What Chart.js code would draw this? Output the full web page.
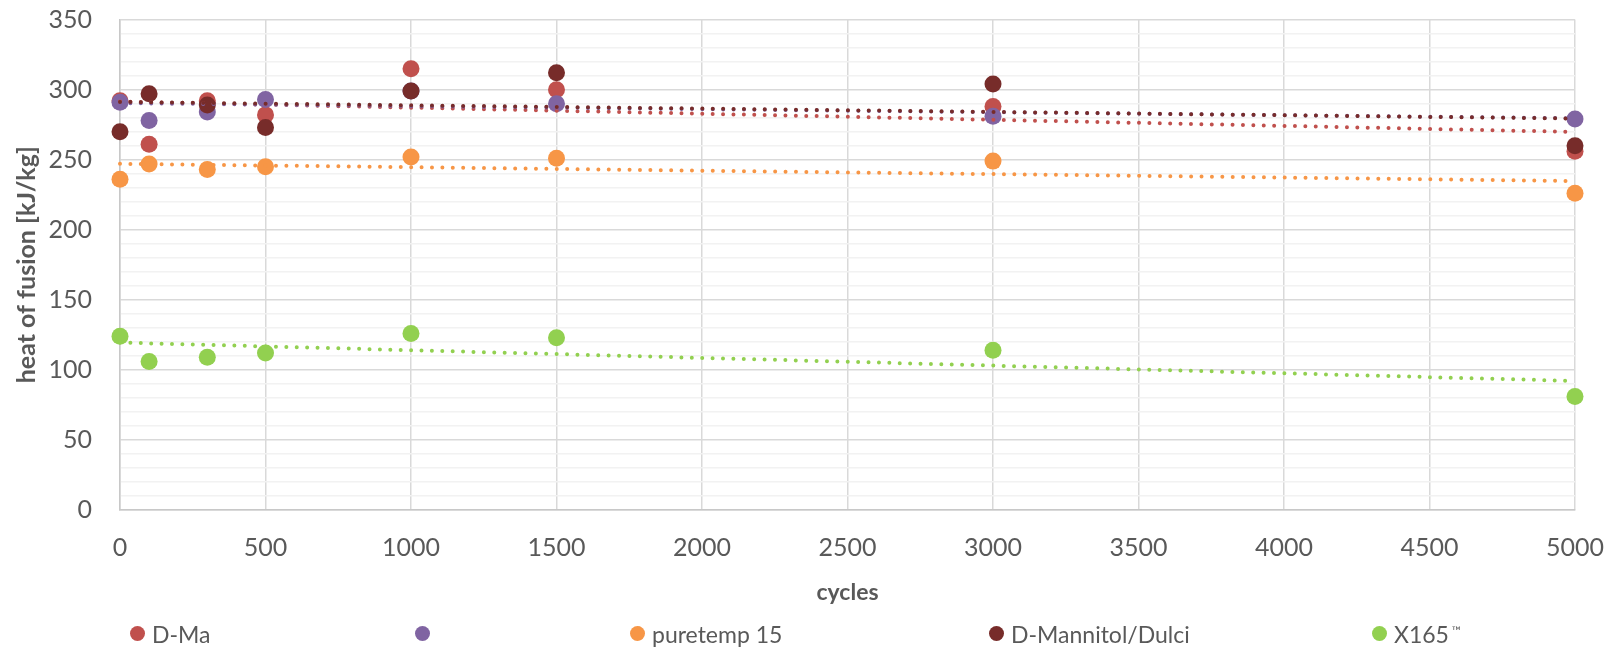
<!DOCTYPE html>
<html>
<head>
<meta charset="utf-8">
<script src="https://cdn.jsdelivr.net/npm/chart.js@4/dist/chart.umd.min.js"></script>
<style>
    html, body { margin: 0; padding: 0; background: #fff; }
    #wrap { position: relative; width: 1614px; height: 647px; }
    #chart { position: absolute; left: 0; top: 0; }
    .legend-item {
        position: absolute;
        top: 619px;
        height: 30px;
        line-height: 30px;
        font-family: Lato, sans-serif;
        font-size: 23px;
        color: #595959;
        white-space: nowrap;
    }
    .legend-item .dot {
        position: absolute;
        left: -8px;
        top: 7px;
        width: 15px;
        height: 15px;
        border-radius: 50%;
    }
    .legend-item .label { position: absolute; left: 14px; top: 0; }
    .legend-item .tm { font-size: 12px; position: relative; top: -8px; }
</style>
</head>
<body>
<div id="wrap">
    <canvas id="chart" width="1614" height="647"></canvas>
    <div id="legend"></div>
</div>
<script>
// x values (cycles)
const cycles = [0, 100, 300, 500, 1000, 1500, 3000, 5000];

// heat of fusion [kJ/kg]
const dMaValues = [292, 261, 292, 282, 315, 300, 288, 256];
const purpleValues = [291, 278, 284, 293, 299, 290, 281, 279];
const puretempValues = [236, 247, 243, 245, 252, 251, 249, 226];
const mannDulciValues = [270, 297, 289, 273, 299, 312, 304, 260];
const x165Values = [124, 106, 109, 112, 126, 123, 114, 81];

// dotted trend lines, start/end values
const trendX = [0, 5000];
const dMaTrend = [291.5, 269.8];
const purpleTrend = [290.4, 279.6];
const puretempTrend = [247.1, 234.8];
const mannDulciTrend = [291.2, 279.4];
const x165Trend = [119.5, 92.1];

const legendLabels = ['D-Ma', '', 'puretemp 15', 'D-Mannitol/Dulci', 'X165'];
const legendLeft = [138, 423, 638, 997, 1380];

const colors = ['#C0504D', '#8064A2', '#F79646', '#772C2A', '#92D050'];
const seriesValues = [dMaValues, purpleValues, puretempValues, mannDulciValues, x165Values];
const trendValues = [dMaTrend, purpleTrend, puretempTrend, mannDulciTrend, x165Trend];

const toPoints = (xs, ys) => xs.map((x, i) => ({ x: x, y: ys[i] }));

const datasets = [];
seriesValues.forEach((vals, i) => {
    datasets.push({
        type: 'scatter',
        label: legendLabels[i],
        data: toPoints(cycles, vals),
        backgroundColor: colors[i],
        borderColor: colors[i],
        pointRadius: 8.5,
        pointHoverRadius: 8.5,
        borderWidth: 0,
        clip: false,
        order: 10 - i
    });
});
trendValues.forEach((vals, i) => {
    datasets.push({
        type: 'line',
        label: legendLabels[i] + ' trend',
        data: toPoints(trendX, vals),
        borderColor: colors[i],
        borderWidth: 4,
        borderDash: [0, 10.4],
        borderCapStyle: 'round',
        pointRadius: 0,
        fill: false,
        clip: false,
        order: 5 - i
    });
});

const tickFont = { family: 'Lato', size: 25 };

new Chart(document.getElementById('chart'), {
    data: { datasets: datasets },
    options: {
        responsive: false,
        animation: false,
        layout: { padding: { left: 0, right: 39, top: 19.6, bottom: 0 } },
        plugins: {
            legend: { display: false },
            tooltip: { enabled: false }
        },
        scales: {
            x: {
                type: 'linear',
                min: 0,
                max: 5000,
                afterFit: (scale) => {
                    scale.height = 137;
                    scale.paddingLeft = 0;
                    scale.paddingRight = 0;
                },
                ticks: {
                    stepSize: 500,
                    color: '#595959',
                    font: tickFont,
                    padding: 23,
                    maxRotation: 0,
                    callback: (v) => String(v)
                },
                grid: { color: '#d9d9d9', lineWidth: 1.5, drawTicks: false },
                border: { color: '#c8c8c8', width: 1.5 },
                title: {
                    display: true,
                    text: 'cycles',
                    color: '#595959',
                    font: { family: 'Lato', size: 23, weight: 'bold' },
                    padding: { top: 0, bottom: 41 }
                }
            },
            y: {
                type: 'linear',
                min: 0,
                max: 350,
                afterFit: (scale) => {
                    scale.width = 120;
                    scale.paddingTop = 0;
                    scale.paddingBottom = 0;
                },
                ticks: {
                    stepSize: 10,
                    autoSkip: false,
                    color: '#595959',
                    font: tickFont,
                    padding: 28,
                    callback: (v) => (v % 50 === 0 ? String(v) : '')
                },
                grid: {
                    drawTicks: false,
                    lineWidth: 1.5,
                    color: (ctx) => (ctx.tick && ctx.tick.value % 50 === 0 ? '#d9d9d9' : '#f2f2f2')
                },
                border: { color: '#c8c8c8', width: 1.5 },
                title: {
                    display: true,
                    text: 'heat of fusion [kJ/kg]',
                    color: '#595959',
                    font: { family: 'Lato', size: 25, weight: 'bold' },
                    padding: { top: 12, bottom: 0 }
                }
            }
        }
    }
});

// legend under the plot, as in the original figure
const legend = document.getElementById('legend');
legendLabels.forEach((name, i) => {
    const item = document.createElement('div');
    item.className = 'legend-item';
    item.style.left = legendLeft[i] + 'px';
    const dot = document.createElement('span');
    dot.className = 'dot';
    dot.style.background = colors[i];
    const label = document.createElement('span');
    label.className = 'label';
    label.textContent = name;
    if (i === 4) {
        const tm = document.createElement('span');
        tm.className = 'tm';
        tm.textContent = ' \u2122';
        label.appendChild(tm);
    }
    item.appendChild(dot);
    item.appendChild(label);
    legend.appendChild(item);
});
</script>
</body>
</html>
